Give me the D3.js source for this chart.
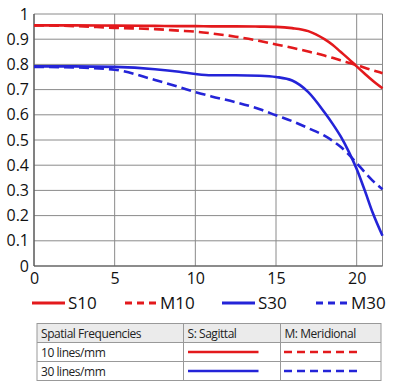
<!DOCTYPE html>
<html><head><meta charset="utf-8">
<script src="https://cdn.jsdelivr.net/npm/d3@7"></script>
<style>body{margin:0;background:#fff;}svg{display:block;font-family:"Open Sans",sans-serif;}</style>
</head><body>
<svg id="c" width="395" height="388"></svg>
<script>
// Data
const xTicks = [0, 5, 10, 15, 20];
const yTicks = [0, 0.1, 0.2, 0.3, 0.4, 0.5, 0.6, 0.7, 0.8, 0.9, 1];
const imageHeight = [0, 2.5, 5, 7.5, 9, 10, 11, 12.5, 14, 15, 16, 17, 18, 18.5, 19, 19.5, 20, 20.5, 21, 21.6];
const S10 = [0.955, 0.955, 0.954, 0.953, 0.952, 0.952, 0.951, 0.951, 0.95, 0.949, 0.944, 0.932, 0.9, 0.878, 0.85, 0.822, 0.792, 0.763, 0.735, 0.705];
const M10 = [0.955, 0.952, 0.945, 0.94, 0.934, 0.93, 0.923, 0.91, 0.893, 0.879, 0.866, 0.851, 0.835, 0.826, 0.816, 0.807, 0.798, 0.787, 0.777, 0.765];
const S30 = [0.792, 0.792, 0.79, 0.781, 0.771, 0.762, 0.757, 0.757, 0.755, 0.75, 0.736, 0.69, 0.61, 0.565, 0.515, 0.455, 0.385, 0.3, 0.21, 0.12];
const M30 = [0.79, 0.788, 0.779, 0.738, 0.71, 0.69, 0.673, 0.65, 0.622, 0.598, 0.575, 0.547, 0.517, 0.497, 0.473, 0.443, 0.408, 0.372, 0.338, 0.305];
const series = [
  {name: "S10", values: S10, color: "#e3191c", dash: null},
  {name: "M10", values: M10, color: "#e3191c", dash: "10,5"},
  {name: "S30", values: S30, color: "#2424d8", dash: null},
  {name: "M30", values: M30, color: "#2424d8", dash: "10,5"}
];
const tableHeader = ["Spatial Frequencies", "S: Sagittal", "M: Meridional"];
const tableRows = ["10 lines/mm", "30 lines/mm"];

const svg = d3.select("#c");
const x = d3.scaleLinear().domain([0, 21.6]).range([34, 382.5]);
const y = d3.scaleLinear().domain([0, 1]).range([266, 14]);

// grid
const g = svg.append("g");
g.selectAll(".hy").data(yTicks).join("line")
  .attr("x1", x(0)).attr("x2", x.range()[1]).attr("y1", d => y(d)).attr("y2", d => y(d))
  .attr("stroke", "#8a8a8a").attr("stroke-width", 1);
g.selectAll(".vx").data(xTicks.concat([21.6])).join("line")
  .attr("x1", d => x(d)).attr("x2", d => x(d)).attr("y1", y(0)).attr("y2", y(1))
  .attr("stroke", "#8a8a8a").attr("stroke-width", 1);
g.append("line").attr("x1", x(0)).attr("x2", x(0)).attr("y1", y(0)).attr("y2", y(1)).attr("stroke", "#555").attr("stroke-width", 1.2);
g.append("line").attr("x1", x(0)).attr("x2", x.range()[1]).attr("y1", y(0)).attr("y2", y(0)).attr("stroke", "#555").attr("stroke-width", 1.2);

// axes labels
const yAxis = d3.axisLeft(y).tickValues(yTicks).tickFormat(d => d === 0 ? "0" : d === 1 ? "1" : d3.format(".1f")(d)).tickSize(0).tickPadding(5);
const ya = svg.append("g").attr("transform", `translate(${x(0)},0)`).call(yAxis);
ya.select(".domain").remove();
ya.selectAll("text").attr("font-size", 16).attr("fill", "#111").attr("font-family", "Open Sans");
const xAxis = d3.axisBottom(x).tickValues(xTicks).tickSize(0).tickPadding(7);
const xa = svg.append("g").attr("transform", `translate(0,${y(0)})`).call(xAxis);
xa.select(".domain").remove();
xa.selectAll("text").attr("font-size", 16).attr("fill", "#111").attr("font-family", "Open Sans");

// curves
const line = d3.line().x((d, i) => x(imageHeight[i])).y(d => y(d)).curve(d3.curveMonotoneX);
svg.selectAll(".curve").data(series).join("path")
  .attr("d", d => line(d.values)).attr("fill", "none")
  .attr("stroke", d => d.color).attr("stroke-width", 2.6)
  .attr("stroke-dasharray", d => d.dash);

// legend
const legX = [32, 125, 222, 316];
const leg = svg.selectAll(".leg").data(series).join("g").attr("transform", (d, i) => `translate(${legX[i]},303)`);
leg.append("line").attr("x1", 0).attr("x2", 33).attr("y1", 0).attr("y2", 0)
  .attr("stroke", d => d.color).attr("stroke-width", 3).attr("stroke-dasharray", d => d.dash ? "7,5" : null);
leg.append("text").attr("x", (d, i) => d.dash ? 35 : 36).attr("y", 6).attr("font-size", 17).attr("fill", "#111").text(d => d.name);

// table
const tx = [37, 183.5, 280.5, 381];
const ty = [323.5, 342.5, 361.5, 380.5];
const t = svg.append("g");
t.append("rect").attr("x", tx[0]).attr("y", ty[0]).attr("width", tx[3] - tx[0]).attr("height", ty[1] - ty[0]).attr("fill", "#ebebeb");
t.append("rect").attr("x", tx[0]).attr("y", ty[0]).attr("width", tx[3] - tx[0]).attr("height", ty[3] - ty[0]).attr("fill", "none").attr("stroke", "#999");
[1, 2].forEach(i => t.append("line").attr("x1", tx[0]).attr("x2", tx[3]).attr("y1", ty[i]).attr("y2", ty[i]).attr("stroke", "#999"));
[1, 2].forEach(i => t.append("line").attr("x1", tx[i]).attr("x2", tx[i]).attr("y1", ty[0]).attr("y2", ty[3]).attr("stroke", "#999"));
tableHeader.forEach((h, i) => t.append("text").attr("x", tx[i] + 4).attr("y", ty[0] + 14).attr("font-size", 12).attr("letter-spacing", -0.45).attr("fill", "#222").text(h));
tableRows.forEach((r, i) => {
  const cy = (ty[i + 1] + ty[i + 2]) / 2;
  t.append("text").attr("x", tx[0] + 4).attr("y", cy + 4.5).attr("font-size", 12).attr("letter-spacing", -0.45).attr("fill", "#222").text(r);
  const sc = series[i * 2], mc = series[i * 2 + 1];
  t.append("line").attr("x1", 188).attr("x2", 258.5).attr("y1", cy).attr("y2", cy).attr("stroke", sc.color).attr("stroke-width", 2.6);
  t.append("line").attr("x1", 284).attr("x2", 358).attr("y1", cy).attr("y2", cy).attr("stroke", mc.color).attr("stroke-width", 2.6).attr("stroke-dasharray", "8,5");
});
</script>
</body></html>
